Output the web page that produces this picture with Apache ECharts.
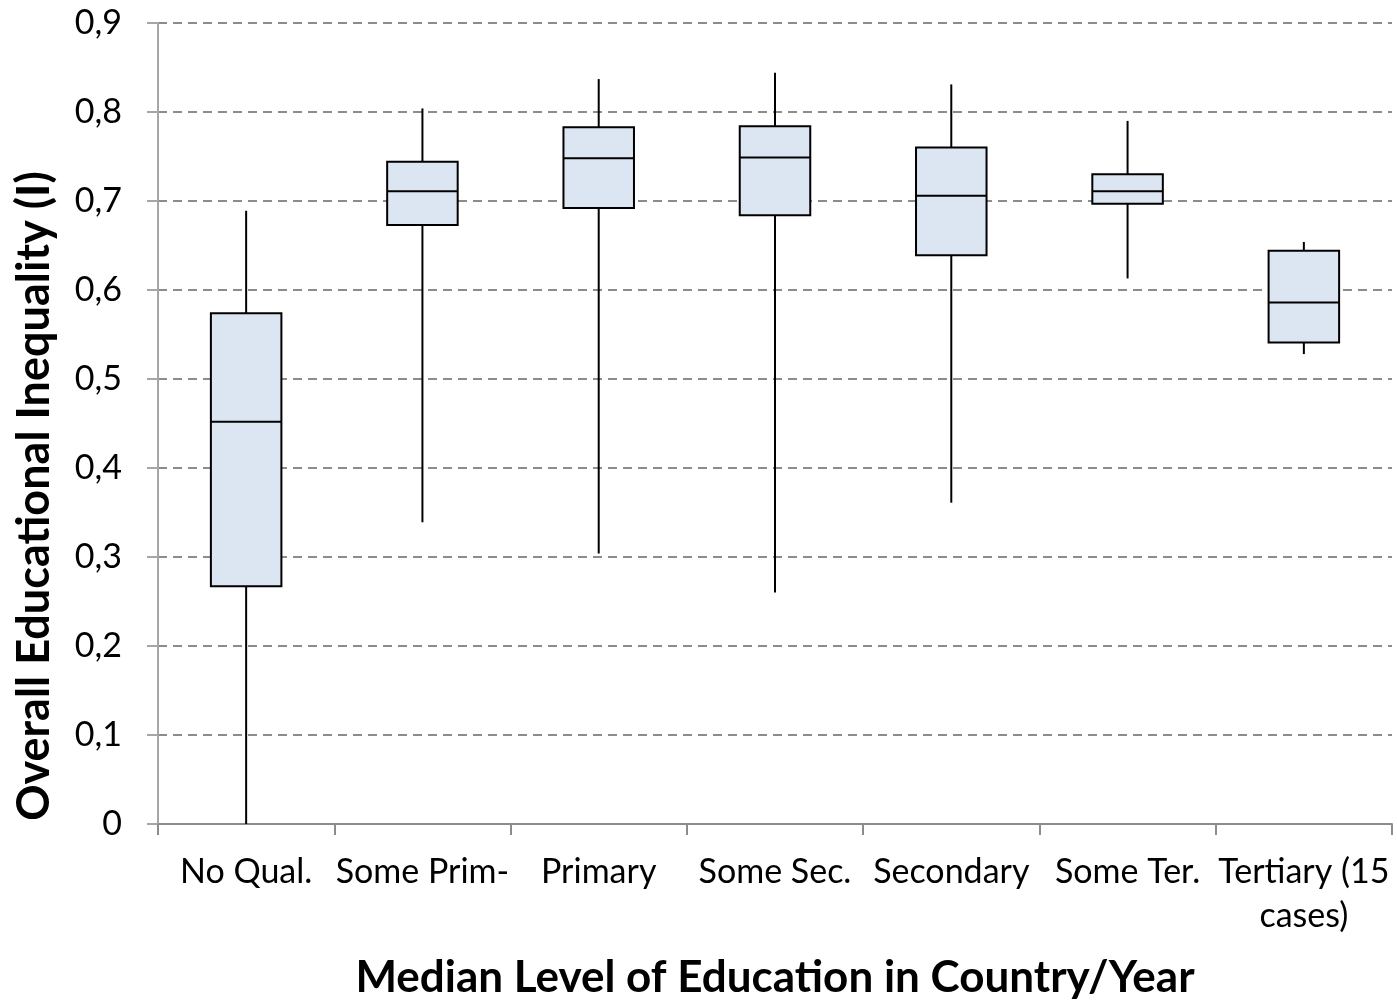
<!DOCTYPE html>
<html>
<head>
<meta charset="utf-8">
<title>Overall Educational Inequality by Median Education Level</title>
<script src="https://cdn.jsdelivr.net/npm/echarts@6/dist/echarts.min.js"></script>
<style>
  html, body { margin: 0; padding: 0; background: #ffffff; }
  #chart { width: 1397px; height: 1002px; }
</style>
</head>
<body>
<div id="chart"></div>
<script>
// Education level categories on the x axis
const categories = ['No Qual.', 'Some Prim-', 'Primary', 'Some Sec.', 'Secondary', 'Some Ter.', 'Tertiary (15 cases)'];

// Five-number summaries per category
const whiskerLow  = [0.000, 0.339, 0.304, 0.260, 0.361, 0.613, 0.528];
const quartileLow = [0.267, 0.673, 0.692, 0.684, 0.639, 0.697, 0.541];
const medians     = [0.452, 0.711, 0.748, 0.749, 0.706, 0.711, 0.586];
const quartileHigh= [0.574, 0.744, 0.783, 0.784, 0.760, 0.730, 0.644];
const whiskerHigh = [0.689, 0.804, 0.837, 0.844, 0.831, 0.790, 0.654];

// Y axis tick values
const yTicks = [0, 0.1, 0.2, 0.3, 0.4, 0.5, 0.6, 0.7, 0.8, 0.9];

const yTitle = 'Overall Educational Inequality (I)';
const xTitle = 'Median Level of Education in Country/Year';

const boxData = categories.map((c, i) => [
  i, whiskerLow[i], quartileLow[i], medians[i], quartileHigh[i], whiskerHigh[i]
]);

const FONT = 'Lato';

function renderBox(params, api) {
  const x = api.value(0);
  const pLow = api.coord([x, api.value(1)]);
  const pQ1 = api.coord([x, api.value(2)]);
  const pMed = api.coord([x, api.value(3)]);
  const pQ3 = api.coord([x, api.value(4)]);
  const pHigh = api.coord([x, api.value(5)]);
  const bw = api.size([1, 0])[0] * 0.4;
  const cx = pMed[0];
  const lineStyle = { stroke: '#000000', lineWidth: 2 };
  return {
    type: 'group',
    children: [
      { type: 'line', shape: { x1: cx, y1: pQ3[1], x2: cx, y2: pHigh[1] }, style: lineStyle },
      { type: 'line', shape: { x1: cx, y1: pQ1[1], x2: cx, y2: pLow[1] }, style: lineStyle },
      { type: 'rect', shape: { x: cx - bw / 2, y: pQ3[1], width: bw, height: pQ1[1] - pQ3[1] },
        style: { fill: '#dce6f2', stroke: '#000000', lineWidth: 2 } },
      { type: 'line', shape: { x1: cx - bw / 2, y1: pMed[1], x2: cx + bw / 2, y2: pMed[1] }, style: lineStyle }
    ]
  };
}

const chart = echarts.init(document.getElementById('chart'), null, { renderer: 'canvas' });

chart.setOption({
  animation: false,
  backgroundColor: '#ffffff',
  grid: { left: 158, right: 5, top: 23, bottom: 178, containLabel: false, outerBoundsMode: 'none' },
  // Vertical axis title, placed a little below the plot's mid-height
  graphic: [{
    type: 'text',
    x: 34,
    y: 496,
    rotation: Math.PI / 2,
    style: {
      text: yTitle,
      fontFamily: FONT,
      fontSize: 45,
      fontWeight: 'bold',
      fill: '#000000',
      align: 'center',
      verticalAlign: 'middle'
    }
  }],
  xAxis: {
    type: 'category',
    data: categories,
    boundaryGap: true,
    name: xTitle,
    nameLocation: 'middle',
    nameGap: 132,
    nameTextStyle: { fontFamily: FONT, fontSize: 44, fontWeight: 'bold', color: '#000000' },
    axisLine: { show: true, lineStyle: { color: '#8c8c8c', width: 2 } },
    axisTick: { show: true, alignWithLabel: false, length: 11, lineStyle: { color: '#8c8c8c', width: 2 } },
    axisLabel: {
      interval: 0,
      margin: 26,
      fontFamily: FONT,
      fontSize: 34,
      color: '#000000',
      lineHeight: 44,
      hideOverlap: false,
      formatter: v => v === 'Tertiary (15 cases)' ? 'Tertiary (15\ncases)' : v
    },
    splitLine: { show: false }
  },
  yAxis: {
    type: 'value',
    min: 0,
    max: 0.9,
    interval: 0.1,
    axisLine: { show: true, lineStyle: { color: '#a6a6a6', width: 2 } },
    axisTick: { show: true, length: 11, lineStyle: { color: '#a6a6a6', width: 2 } },
    axisLabel: {
      margin: 36,
      fontFamily: FONT,
      fontSize: 34,
      color: '#000000',
      formatter: v => {
        const t = yTicks.find(k => Math.abs(k - v) < 1e-9);
        const val = t === undefined ? v : t;
        return val === 0 ? '0' : val.toFixed(1).replace('.', ',');
      }
    },
    splitLine: { show: true, lineStyle: { color: '#8c8c8c', width: 2, type: [9, 6] } }
  },
  series: [{
    type: 'custom',
    renderItem: renderBox,
    encode: { x: 0, y: [1, 2, 3, 4, 5] },
    data: boxData,
    z: 5
  }]
});
</script>
</body>
</html>
